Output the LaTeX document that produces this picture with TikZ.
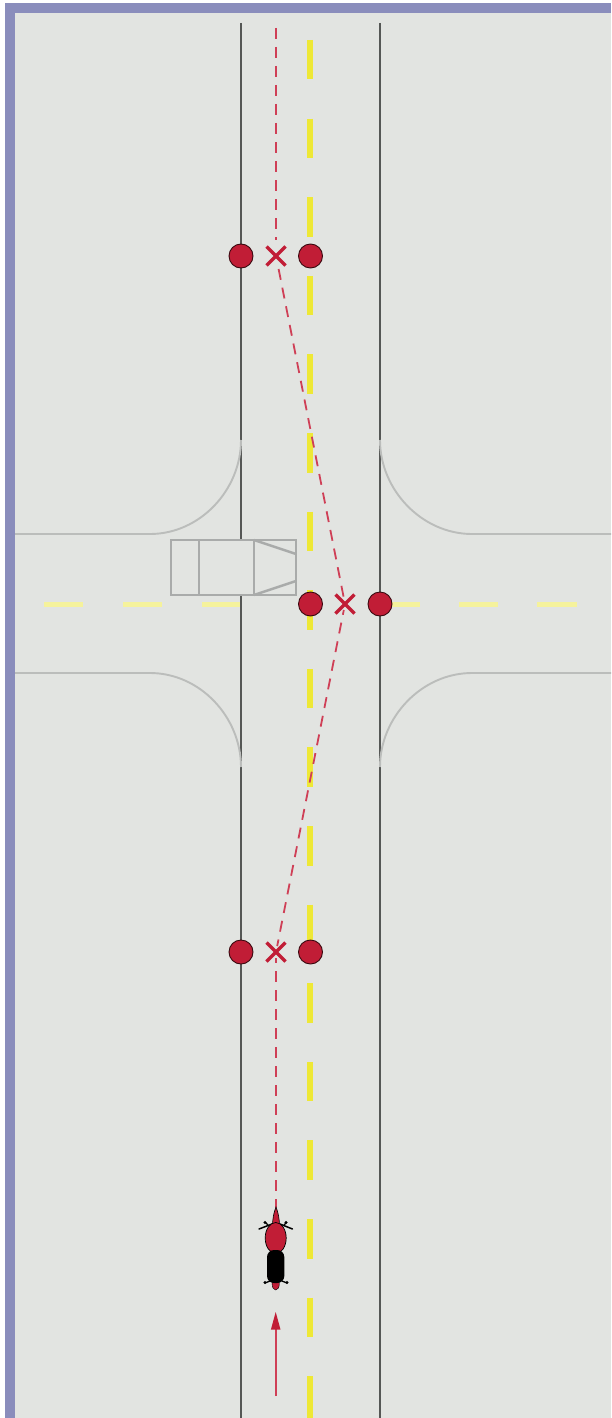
\documentclass[tikz,border=0pt]{standalone}
\definecolor{bgc}{HTML}{E2E4E1}
\definecolor{framec}{HTML}{8A8DBC}
\definecolor{roady}{HTML}{EEE836}
\definecolor{crossy}{HTML}{F5F29C}
\definecolor{redc}{HTML}{C11D36}
\definecolor{pathred}{HTML}{CF3F56}
\definecolor{linec}{HTML}{555755}
\definecolor{curvec}{HTML}{BBBDBB}
\definecolor{carc}{HTML}{A9ABAA}
\tikzset{
  x=1pt,y=-1pt,
  edgeline/.style={draw=linec,line width=1.4pt},
  curveline/.style={draw=curvec,line width=1.9pt},
  centredash/.style={draw=roady,line width=6pt},
  crossdash/.style={draw=crossy,line width=5pt},
  carbody/.style={draw=carc,line width=2.4pt},
  spot/.style={circle,fill=redc,draw=black!70!redc,line width=0.9pt,minimum size=24pt,inner sep=0pt},
  pathline/.style={draw=pathred,line width=1.8pt,dash pattern=on 11pt off 8pt},
  arrowshaft/.style={draw=pathred,line width=2.2pt},
  crossmark/.style={draw=redc,line width=3.4pt},
}
\begin{document}
\begin{tikzpicture}
\useasboundingbox (0,0) rectangle (611,1418);
\fill[white] (0,0) rectangle (611,1418);
\fill[framec] (5,3) rectangle (611,1418);
\fill[bgc] (15,13) rectangle (611,1418);
% centre line
\foreach \i in {0,...,16}{
  \pgfmathsetmacro{\ya}{40+78.6*\i}
  \pgfmathsetmacro{\yb}{\ya+39.5}
  \draw[centredash] (310,\ya) -- (310,\yb);
}
\draw[centredash] (310,1376) -- (310,1418);
% side road centre line
\foreach \a/\b in {44/83,123/162,202/240,380/420,459/498,537/577}{
  \draw[crossdash] (\a,604) -- (\b,604);
}
% road edges
\draw[edgeline] (241,23) -- (241,1418);
\draw[edgeline] (380,23) -- (380,1418);
% corners
\draw[curveline] (15,534) -- (150,534) .. controls (200,534) and (241,490) .. (241,440);
\draw[curveline] (15,673) -- (150,673) .. controls (200,673) and (241,717) .. (241,767);
\draw[curveline] (611,534) -- (472,534) .. controls (422,534) and (380,490) .. (380,440);
\draw[curveline] (611,673) -- (472,673) .. controls (422,673) and (380,717) .. (380,767);
% car
\filldraw[carbody,fill=bgc] (171,540) rectangle (296,595);
\draw[carbody] (199,540) -- (199,595);
\draw[carbody] (254,540) -- (254,595);
\draw[carbody] (254,540) -- (296,554);
\draw[carbody] (254,595) -- (296,581);
% path points
\coordinate (start) at (276,28);
\coordinate (p1) at (276,256);
\coordinate (p2) at (345,604);
\coordinate (p3) at (276,952);
\coordinate (bike) at (276,1208);
\draw[pathline] (start) -- (276,240);
\draw[pathline] (p1) ++(2.6,13) -- (p2);
\draw[pathline] (p2) -- (p3);
\draw[pathline] (p3) -- (bike);
% spots
\node[spot] (a1) at (241,256) {};
\node[spot] (a2) at (310.5,256) {};
\node[spot] (b1) at (310.5,604) {};
\node[spot] (b2) at (380,604) {};
\node[spot] (c1) at (241,952) {};
\node[spot] (c2) at (310.5,952) {};
% crosses
\foreach \c in {p1,p2,p3}{
  \fill[bgc] (\c) circle (6);
  \draw[crossmark] (\c) ++(-9.5,-9.5) -- ++(19,19);
  \draw[crossmark] (\c) ++(9.5,-9.5) -- ++(-19,19);
}
% motorcycle
\draw[black,line width=1.5pt,line cap=round] (259,1229) -- (272,1224);
\draw[black,line width=1.5pt,line cap=round] (292.5,1229) -- (280,1224);
\draw[black,line width=1.3pt] (265,1222) -- (268,1225) (287,1222) -- (284,1225);
\draw[black,line width=1.3pt,line cap=round] (265,1283) -- (270,1281) (287,1283) -- (282,1281);
\fill[black] (265,1282.5) circle (1.6) (287,1282.5) circle (1.6) (265,1222.5) circle (1.6) (286,1222.5) circle (1.6);
\filldraw[fill=redc,draw=black,line width=0.6pt] (276,1207) .. controls (278.5,1213) and (279.5,1220) .. (279.5,1226) -- (272.5,1226) .. controls (272.5,1220) and (273.5,1213) .. (276,1207) -- cycle;
\filldraw[fill=redc,draw=black,line width=0.7pt] (275.7,1238) ellipse (10.5 and 15.5);
\filldraw[fill=redc,draw=black,line width=0.4pt] (275.7,1284) ellipse (3.6 and 6);
\fill[black,rounded corners=7pt] (267,1250) rectangle (284.3,1283);
% arrow
\coordinate (arrowtail) at (275.7,1396);
\coordinate (arrowtip) at (275.7,1312);
\draw[arrowshaft] (arrowtail) -- (arrowtip |- 0,1325);
\fill[redc] (arrowtip) -- ++(4.8,17.5) -- ++(-9.6,0) -- cycle;
\end{tikzpicture}
\end{document}
